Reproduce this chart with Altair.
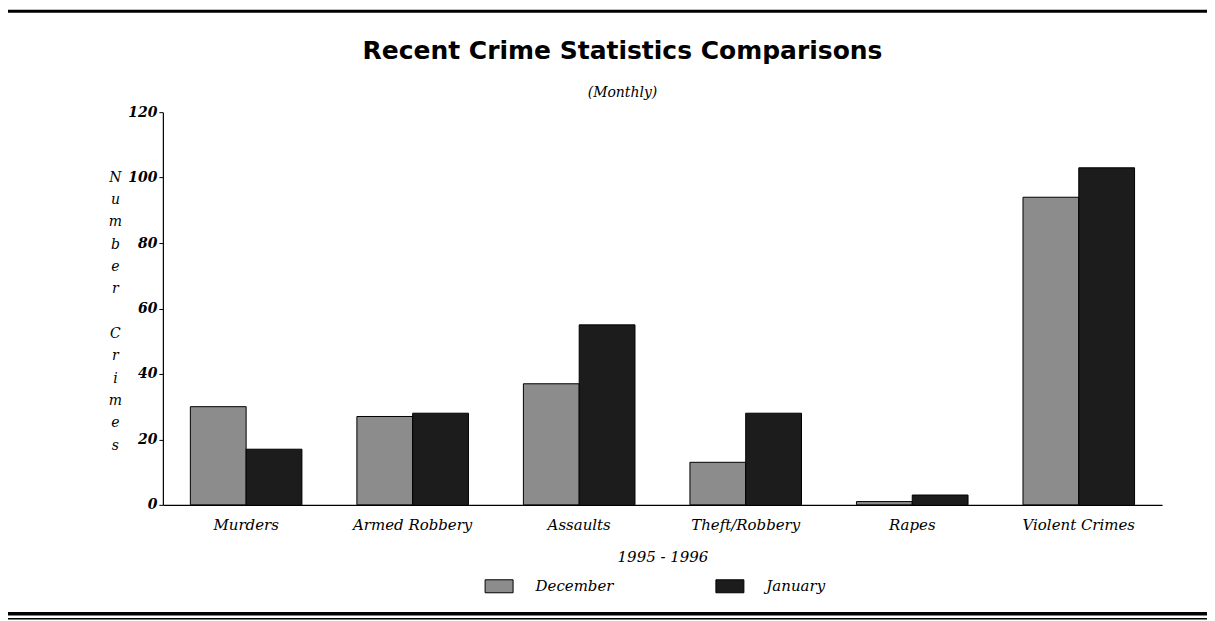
import altair as alt
import pandas as pd

categories = ["Murders", "Armed Robbery", "Assaults", "Theft/Robbery", "Rapes", "Violent Crimes"]
months = ["December", "January"]
december = [30, 27, 37, 13, 1, 94]
january = [17, 28, 55, 28, 3, 103]

rows = []
for c, d, j in zip(categories, december, january):
    rows.append({"category": c, "month": "December", "crimes": d})
    rows.append({"category": c, "month": "January", "crimes": j})
df = pd.DataFrame(rows)

y_title = ["N", "u", "m", "b", "e", "r", "\u2800", "C", "r", "i", "m", "e", "s"]

serif = "DejaVu Serif"

bars = alt.Chart(df).mark_bar(stroke="black", strokeWidth=1).encode(
    x=alt.X("category:N", sort=categories,
            scale=alt.Scale(paddingInner=0.33, paddingOuter=0.165),
            axis=alt.Axis(title="1995 - 1996", labelAngle=0, ticks=False,
                          labelFont=serif, labelFontStyle="italic", labelFontSize=15,
                          labelColor="black", labelPadding=13,
                          titleFont=serif, titleFontStyle="italic", titleFontWeight="normal",
                          titleFontSize=15, titleColor="black",
                          titleX=500, titleY=52, titleBaseline="middle",
                          domainColor="black", domainWidth=1.2)),
    xOffset=alt.XOffset("month:N", sort=months),
    y=alt.Y("crimes:Q", scale=alt.Scale(domain=[0, 120]),
            axis=alt.Axis(values=[0, 20, 40, 60, 80, 100, 120], grid=False,
                          title=y_title, titleAngle=0, titleX=-48, titleY=58,
                          titleAlign="center", titleBaseline="top", titleLineHeight=22.35,
                          titleFont=serif, titleFontStyle="italic", titleFontWeight="normal",
                          titleFontSize=14, titleColor="black",
                          labelFont=serif, labelFontStyle="italic", labelFontWeight="bold",
                          labelFontSize=14, labelColor="black", labelPadding=2,
                          tickSize=4, tickColor="black", domainColor="black",
                          domainWidth=1.2)),
    color=alt.Color("month:N", sort=months,
                    scale=alt.Scale(domain=months, range=["#8c8c8c", "#1c1c1c"]),
                    legend=alt.Legend(title=None, orient="none", direction="horizontal",
                                      legendX=322, legendY=460,
                                      symbolType="M-1,-0.464H1V0.464H-1Z", symbolSize=784,
                                      symbolStrokeColor="black", symbolStrokeWidth=1,
                                      labelFont=serif, labelFontStyle="italic",
                                      labelFontSize=15, labelColor="black",
                                      labelOffset=22, columnPadding=99)),
)

deco = alt.Chart(alt.Data(values=[{"k": 0}])).mark_rule(color="black", strokeWidth=3).encode(
    x=alt.value(-160), x2=alt.value(1060), y=alt.value(-101),
)
deco_bottom = alt.Chart(alt.Data(values=[{"k": 0}])).mark_rule(color="black", strokeWidth=3.5).encode(
    x=alt.value(-160), x2=alt.value(1060), y=alt.value(502),
)
deco_bottom2 = alt.Chart(alt.Data(values=[{"k": 0}])).mark_rule(color="black", strokeWidth=1.5).encode(
    x=alt.value(-160), x2=alt.value(1060), y=alt.value(507),
)

chart = alt.layer(bars, deco, deco_bottom, deco_bottom2).properties(
    width=1000, height=393,
    autosize=alt.AutoSizeParams(type="none"),
    padding={"left": 155, "top": 104, "right": 45, "bottom": 116},
    background="white",
    title=alt.TitleParams(
        text="Recent Crime Statistics Comparisons",
        subtitle="(Monthly)",
        font="DejaVu Sans", fontSize=25, fontWeight="bold", color="black",
        subtitleFont=serif, subtitleFontStyle="italic", subtitleFontSize=14,
        subtitleColor="black", subtitlePadding=22,
        anchor="middle", frame="group", offset=-90, dx=-40,
    ),
).configure_view(stroke=None)

chart.save("out.html", embed_options={"renderer": "svg", "actions": False})
